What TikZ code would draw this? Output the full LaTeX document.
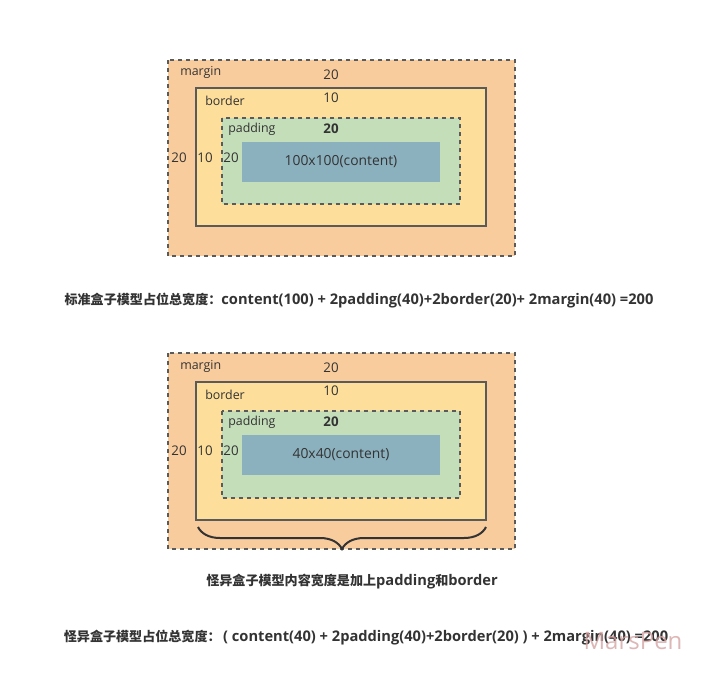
\documentclass[tikz,border=0pt]{standalone}
\usepackage{fontspec}
\setmainfont{Open Sans}
\newfontfamily\cjkfam{Noto Sans CJK SC}
\newcommand{\cjk}[1]{{\cjkfam\bfseries\fontsize{9.8pt}{12pt}\selectfont #1}}
\usetikzlibrary{decorations.pathreplacing}
\definecolor{marginc}{HTML}{F9CC9E}
\definecolor{borderc}{HTML}{FDDE9B}
\definecolor{paddingc}{HTML}{C4DEBA}
\definecolor{contentc}{HTML}{8BB1BF}
\definecolor{linec}{HTML}{5A5A5A}
\definecolor{txtc}{HTML}{333333}
\definecolor{wmc}{HTML}{D4A4A4}
\begin{document}
\begin{tikzpicture}[x=0.75pt,y=-0.75pt,
  marginbox/.style={fill=marginc,draw=linec,dashed,line width=0.9pt},
  borderbox/.style={fill=borderc,draw=linec,line width=0.9pt},
  paddingbox/.style={fill=paddingc,draw=linec,dashed,line width=0.9pt},
  contentbox/.style={fill=contentc,draw=none},
  lbl/.style={text=txtc,font=\fontsize{9.3pt}{11pt}\selectfont,inner sep=0pt},
  nlbl/.style={text=txtc,font=\fontsize{10pt}{11pt}\selectfont,inner sep=0pt},
  blbl/.style={nlbl,font=\fontsize{10pt}{11pt}\selectfont\bfseries},
  clbl/.style={text=txtc,font=\fontsize{10.4pt}{12pt}\selectfont,inner sep=0pt},
  caption/.style={text=txtc,font=\fontsize{11pt}{13pt}\selectfont\bfseries,inner sep=0pt},
  bracestyle/.style={decorate,decoration={brace,mirror,amplitude=16.5pt},draw=txtc,line width=1.5pt}]
\useasboundingbox (0,0) rectangle (718,689);
% ---------- standard box model ----------
\draw[marginbox] (168,60) rectangle (515,256);
\draw[borderbox] (196,88) rectangle (486,226);
\draw[paddingbox] (222,118) rectangle (460,204);
\node[contentbox,minimum width=198*0.75pt,minimum height=40*0.75pt,inner sep=0pt] (c1) at (341,162) {};
\node[clbl] (c1t) at (341,162) {100x100(content)};
\node[lbl,anchor=west] (m1) at (180,72) {margin};
\node[nlbl] (m1v) at (331,75) {20};
\node[lbl,anchor=west] (b1) at (205,101) {border};
\node[nlbl] (b1v) at (331,98) {10};
\node[lbl,anchor=west] (p1) at (228,129) {padding};
\node[blbl] (p1v) at (331,129) {20};
\node[nlbl] (m1l) at (179,158) {20};
\node[nlbl] (b1l) at (205,158) {10};
\node[nlbl] (p1l) at (231,158) {20};
\node[caption] (cap1) at (359,301) {\cjk{标准盒子模型占位总宽度：}content(100) + 2padding(40)+2border(20)+ 2margin(40) =200};
% ---------- quirks box model ----------
\draw[marginbox] (168,353) rectangle (515,549);
\draw[borderbox] (196,382) rectangle (486,520);
\draw[paddingbox] (222,411) rectangle (460,498);
\node[contentbox,minimum width=198*0.75pt,minimum height=40*0.75pt,inner sep=0pt] (c2) at (341,455) {};
\node[clbl] (c2t) at (341,455) {40x40(content)};
\node[lbl,anchor=west] (m2) at (180,366) {margin};
\node[nlbl] (m2v) at (331,368) {20};
\node[lbl,anchor=west] (b2) at (205,395) {border};
\node[nlbl] (b2v) at (331,391) {10};
\node[lbl,anchor=west] (p2) at (228,422) {padding};
\node[blbl] (p2v) at (331,422) {20};
\node[nlbl] (m2l) at (179,451) {20};
\node[nlbl] (b2l) at (205,451) {10};
\node[nlbl] (p2l) at (231,451) {20};
\coordinate (brL) at (198,527);
\coordinate (brR) at (486,527);
\draw[bracestyle] (brL) -- (brR);
\node[caption] (cap2) at (352,582) {\cjk{怪异盒子模型内容宽度是加上}padding\cjk{和}border};
\node[caption] (cap3) at (366,638) {\cjk{怪异盒子模型占位总宽度：}\,( content(40) + 2padding(40)+2border(20) ) + 2margin(40) =200};
\node[text=wmc,font=\fontsize{18pt}{21pt}\selectfont,inner sep=0pt,opacity=0.8] (wm) at (633,641) {MarsPen};
\end{tikzpicture}
\end{document}
